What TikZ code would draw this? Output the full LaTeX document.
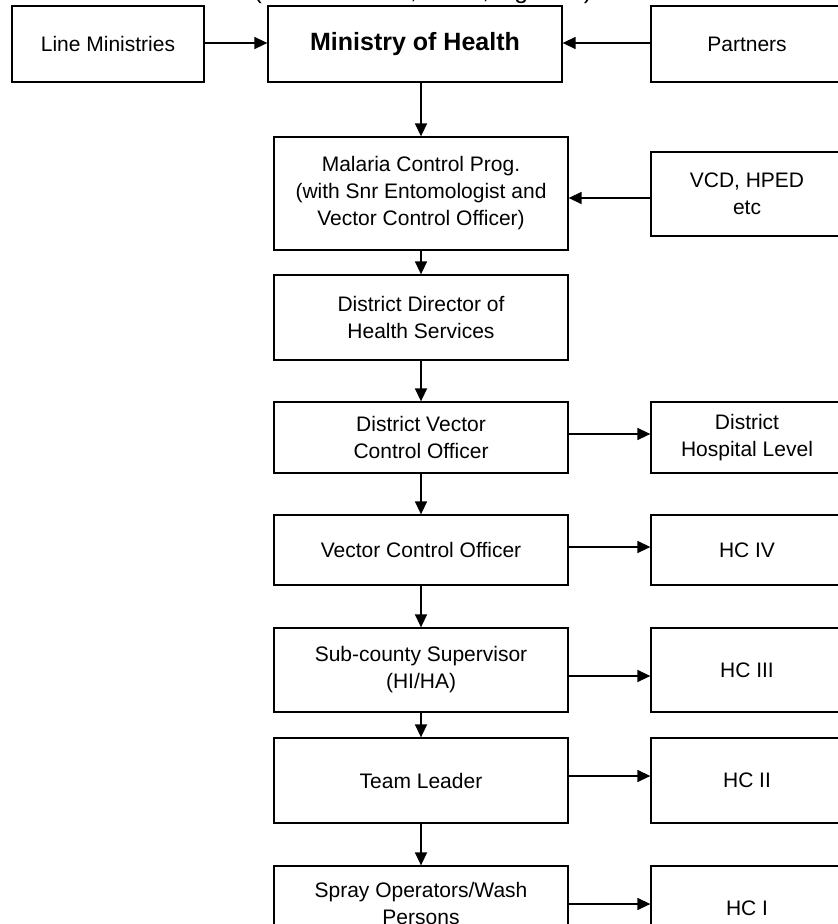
\documentclass[tikz,border=0pt]{standalone}
\usepackage{fontspec}
\setmainfont{Liberation Sans}
\usetikzlibrary{arrows.meta}
\begin{document}
\begin{tikzpicture}[x=1pt,y=-1pt,
  box/.style={draw,line width=1.3pt,rectangle,inner sep=0pt,align=center,
    font=\fontsize{21}{27}\selectfont},
  colbox/.style={box,minimum width=294pt},
  sidebox/.style={box,minimum width=192pt},
  arr/.style={line width=1.5pt,-{Triangle[length=13pt,width=12pt]}}]
\useasboundingbox (0,0) rectangle (838,924);
\clip (0,0) rectangle (838,924);
\node[anchor=base,font=\fontsize{25}{30}\selectfont] (src) at (423,-2) {(Source: VCD, MOH, Uganda)};
% top row
\node[sidebox,minimum height=76pt] (lm) at (108,44) {Line Ministries};
\node[box,minimum width=294pt,minimum height=76pt,font=\bfseries\fontsize{25}{30}\selectfont] (moh) at (415,44) {Ministry of Health};
\node[sidebox,minimum height=76pt] (par) at (747,44) {Partners};
% column
\node[colbox,minimum height=113pt] (mal) at (421,193.5) {Malaria Control Prog.\\(with Snr Entomologist and\\Vector Control Officer)};
\node[sidebox,minimum height=84pt] (vcd) at (747,194) {VCD, HPED\\etc};
\node[colbox,minimum height=85pt] (ddhs) at (421,317.5) {District Director of\\Health Services};
\node[colbox,minimum height=71pt] (dvco) at (421,437.5) {District Vector\\Control Officer};
\node[sidebox,minimum height=71pt] (dh) at (747,437.5) {District\\Hospital Level};
\node[colbox,minimum height=70pt] (vco) at (421,550) {Vector Control Officer};
\node[sidebox,minimum height=70pt] (hc4) at (747,550) {HC IV};
\node[colbox,minimum height=84pt] (sub) at (421,670) {Sub-county Supervisor\\(HI/HA)};
\node[sidebox,minimum height=84pt] (hc3) at (747,670) {HC III};
\node[colbox,minimum height=85pt] (tl) at (421,780.5) {Team Leader};
\node[sidebox,minimum height=85pt] (hc2) at (747,780.5) {HC II};
\node[colbox,minimum height=74pt] (spray) at (421,903) {Spray Operators/Wash\\Persons};
\node[sidebox,minimum height=84pt] (hc1) at (747,908) {HC I};
% horizontal arrows
\draw[arr] ([yshift=1pt]lm.east) -- ([yshift=1pt]moh.west);
\draw[arr] ([yshift=1pt]par.west) -- ([yshift=1pt]moh.east);
\draw[arr] ([yshift=-4pt]vcd.west) -- ([yshift=-4.5pt]mal.east);
\draw[arr] ([yshift=3.5pt]dvco.east) -- ([yshift=3.5pt]dh.west);
\draw[arr] ([yshift=3pt]vco.east) -- ([yshift=3pt]hc4.west);
\draw[arr] ([yshift=-6pt]sub.east) -- ([yshift=-6pt]hc3.west);
\draw[arr] ([yshift=4.5pt]tl.east) -- ([yshift=4.5pt]hc2.west);
\draw[arr] ([yshift=-1pt]spray.east) -- ([yshift=4pt]hc1.west);
% vertical arrows
\draw[arr] ([xshift=6pt]moh.south) -- (mal.north);
\draw[arr] (mal.south) -- (ddhs.north);
\draw[arr] (ddhs.south) -- (dvco.north);
\draw[arr] (dvco.south) -- (vco.north);
\draw[arr] (vco.south) -- (sub.north);
\draw[arr] (sub.south) -- (tl.north);
\draw[arr] (tl.south) -- (spray.north);
\end{tikzpicture}
\end{document}
